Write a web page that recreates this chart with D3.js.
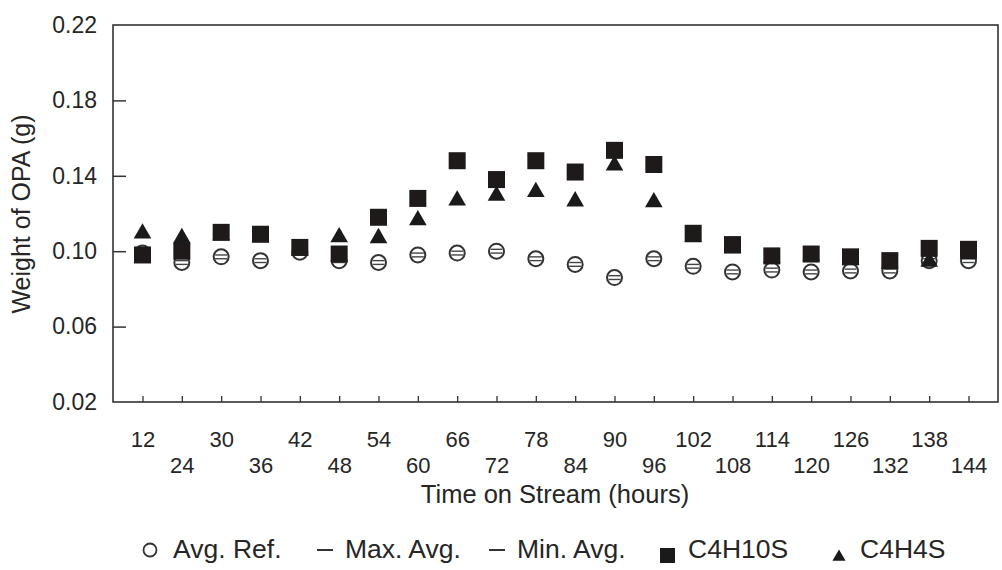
<!DOCTYPE html>
<html>
<head>
<meta charset="utf-8">
<script src="https://cdn.jsdelivr.net/npm/d3@7"></script>
<style>
  html, body { margin: 0; padding: 0; background: #fff; }
  svg { display: block; font-family: "Liberation Sans", Arial, sans-serif; }
</style>
</head>
<body>
<svg id="chart" width="1002" height="570"></svg>
<script>
// ---- data ----
const categories = [12, 24, 30, 36, 42, 48, 54, 60, 66, 72, 78, 84, 90, 96, 102, 108, 114, 120, 126, 132, 138, 144];
const avgRef  = [0.099, 0.094, 0.097, 0.095, 0.0995, 0.095, 0.094, 0.098, 0.099, 0.100, 0.096, 0.093, 0.086, 0.096, 0.092, 0.089, 0.090, 0.089, 0.0895, 0.0895, 0.095, 0.095];
const maxAvg  = [0.100, 0.095, 0.098, 0.096, 0.1005, 0.096, 0.095, 0.099, 0.100, 0.101, 0.097, 0.094, 0.087, 0.097, 0.093, 0.090, 0.091, 0.090, 0.0905, 0.0905, 0.096, 0.096];
const minAvg  = [0.098, 0.093, 0.096, 0.094, 0.0985, 0.094, 0.093, 0.097, 0.098, 0.099, 0.095, 0.092, 0.085, 0.095, 0.091, 0.088, 0.089, 0.088, 0.0885, 0.0885, 0.094, 0.094];
const c4h10s  = [0.098, 0.100, 0.110, 0.109, 0.102, 0.0985, 0.118, 0.128, 0.148, 0.138, 0.148, 0.142, 0.1535, 0.146, 0.1095, 0.1035, 0.0975, 0.0985, 0.097, 0.095, 0.1015, 0.101];
const c4h4s   = [0.110, 0.1075, 0.109, 0.108, 0.101, 0.108, 0.1075, 0.117, 0.1275, 0.130, 0.132, 0.127, 0.146, 0.1265, 0.108, 0.102, 0.097, 0.098, 0.096, 0.094, 0.095, 0.099];
const yTicks = [0.02, 0.06, 0.10, 0.14, 0.18, 0.22];
const legendItems = ["Avg. Ref.", "Max. Avg.", "Min. Avg.", "C4H10S", "C4H4S"];

// ---- layout ----
const svg = d3.select("#chart");
const L = 113, R = 998, T = 25, B = 402;
const ink = "#262626";

const x = d3.scalePoint().domain(categories).range([L, R]).padding(0.75);
const y = d3.scaleLinear().domain([0.02, 0.22]).range([B, T]);

// frame
svg.append("rect").attr("x", L).attr("y", T).attr("width", R - L).attr("height", B - T)
  .attr("fill", "none").attr("stroke", "#333").attr("stroke-width", 1.6);

// y axis (ticks inside)
const yAxis = d3.axisLeft(y).tickValues(yTicks).tickSize(-13).tickPadding(16).tickFormat(d3.format(".2f"));
const gy = svg.append("g").attr("transform", `translate(${L},0)`).call(yAxis);
gy.select(".domain").remove();
gy.selectAll(".tick line").attr("stroke", "#333").attr("stroke-width", 1.5)
  .filter(d => d === 0.02 || d === 0.22).remove();
gy.selectAll(".tick text").attr("font-size", 23).attr("fill", ink)
  .attr("font-family", "'Liberation Sans', Arial, sans-serif");

// x axis (ticks inside, staggered labels)
const xAxis = d3.axisBottom(x).tickSize(-6).tickFormat("");
const gx = svg.append("g").attr("transform", `translate(0,${B})`).call(xAxis);
gx.select(".domain").remove();
gx.selectAll(".tick line").attr("stroke", "#333").attr("stroke-width", 1.3);
gx.selectAll(".tick").append("text")
  .attr("y", (d, i) => i % 2 === 0 ? 45 : 71)
  .attr("text-anchor", "middle")
  .attr("font-size", 22).attr("fill", ink)
  .attr("font-family", "'Liberation Sans', Arial, sans-serif")
  .text(d => d);

// axis titles
svg.append("text").attr("x", 555).attr("y", 503).attr("text-anchor", "middle")
  .attr("font-size", 25.5).attr("fill", ink).text("Time on Stream (hours)");
svg.append("text").attr("transform", "translate(30,214) rotate(-90)").attr("text-anchor", "middle")
  .attr("font-size", 25).attr("fill", ink).text("Weight of OPA (g)");

// ---- marks ----
const plot = svg.append("g");
const sym = (type, size) => d3.symbol().type(type).size(size)();

// Avg. Ref. (open circles)
plot.selectAll(".avg").data(categories).join("circle")
  .attr("cx", d => x(d)).attr("cy", (d, i) => y(avgRef[i])).attr("r", 7.5)
  .attr("fill", "#fff").attr("stroke", "#333").attr("stroke-width", 2);

// Max / Min dashes
[maxAvg, minAvg].forEach(arr => {
  plot.selectAll(null).data(categories).join("line")
    .attr("x1", d => x(d) - 6).attr("x2", d => x(d) + 6)
    .attr("y1", (d, i) => y(arr[i])).attr("y2", (d, i) => y(arr[i]))
    .attr("stroke", "#444").attr("stroke-width", 1.4);
});

// C4H4S triangles
plot.selectAll(".tri").data(categories).join("path")
  .attr("d", sym(d3.symbolTriangle, 135))
  .attr("transform", (d, i) => `translate(${x(d)},${y(c4h4s[i]) + 1})`)
  .attr("fill", "#1a1a1a");

// C4H10S squares
plot.selectAll(".sq").data(categories).join("rect")
  .attr("x", d => x(d) - 8.5).attr("y", (d, i) => y(c4h10s[i]) - 8.5)
  .attr("width", 17).attr("height", 17).attr("fill", "#1f1a1a");

// ---- legend ----
const lg = svg.append("g").attr("font-size", 26.5).attr("fill", ink);
const ly = 558;
lg.append("circle").attr("cx", 150).attr("cy", 550).attr("r", 6.5).attr("fill", "none").attr("stroke", "#333").attr("stroke-width", 1.8);
lg.append("line").attr("x1", 317).attr("x2", 333).attr("y1", 550).attr("y2", 550).attr("stroke", "#333").attr("stroke-width", 2);
lg.append("line").attr("x1", 489).attr("x2", 505).attr("y1", 550).attr("y2", 550).attr("stroke", "#333").attr("stroke-width", 2);
lg.append("rect").attr("x", 660).attr("y", 548).attr("width", 15).attr("height", 15).attr("fill", "#1a1a1a");
lg.append("path").attr("d", sym(d3.symbolTriangle, 75)).attr("transform", `translate(839,557)`).attr("fill", "#1a1a1a");
const lt = [173, 345, 517, 688, 860];
legendItems.forEach((t, i) => {
  lg.append("text").attr("x", lt[i]).attr("y", ly).text(t);
});
</script>
</body>
</html>
